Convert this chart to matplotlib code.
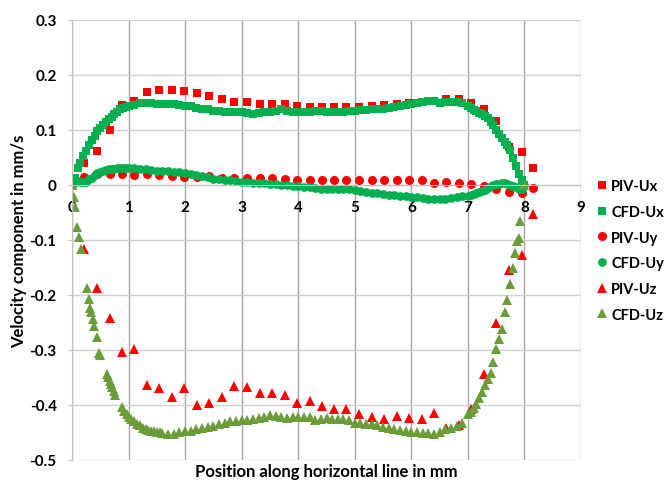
import matplotlib
matplotlib.use('Agg')
import matplotlib.pyplot as plt

plt.rcParams['font.family'] = ['Lato', 'DejaVu Sans']
plt.rcParams['font.weight'] = 'bold'

# PIV measurements (x in mm, velocities in mm/s)
piv_x = [0, 0.22, 0.44, 0.67, 0.88, 1.10, 1.32, 1.54, 1.77, 1.98, 2.21, 2.43, 2.65,
         2.87, 3.09, 3.32, 3.53, 3.76, 3.98, 4.20, 4.42, 4.64, 4.85, 5.08, 5.30, 5.52,
         5.74, 5.96, 6.18, 6.40, 6.62, 6.84, 7.06, 7.28, 7.50, 7.73, 7.95, 8.16]
piv_ux = [0, 0.039, 0.062, 0.100, 0.145, 0.153, 0.168, 0.173, 0.172, 0.170, 0.166, 0.162,
          0.156, 0.150, 0.150, 0.147, 0.147, 0.146, 0.144, 0.142, 0.142, 0.142, 0.141,
          0.141, 0.143, 0.145, 0.147, 0.149, 0.151, 0.153, 0.156, 0.156, 0.149, 0.138,
          0.116, 0.069, 0.060, 0.030]
piv_uy = [0, 0.015, 0.020, 0.020, 0.020, 0.018, 0.019, 0.018, 0.016, 0.015, 0.015, 0.016,
          0.013, 0.013, 0.013, 0.012, 0.012, 0.010, 0.009, 0.008, 0.008, 0.008, 0.008,
          0.008, 0.008, 0.008, 0.008, 0.008, 0.008, 0.004, 0.005, 0.004, 0.002, -0.002,
          -0.008, -0.013, -0.014, -0.005]
piv_uz = [0, -0.116, -0.188, -0.242, -0.304, -0.299, -0.364, -0.370, -0.385, -0.370,
          -0.400, -0.397, -0.385, -0.365, -0.367, -0.378, -0.379, -0.382, -0.396, -0.393,
          -0.402, -0.407, -0.407, -0.417, -0.421, -0.426, -0.420, -0.424, -0.426, -0.414,
          -0.442, -0.436, -0.407, -0.344, -0.251, -0.155, -0.128, -0.053]

# CFD results
cfd_x = [0, 0.05, 0.1, 0.15, 0.2, 0.25, 0.3, 0.35, 0.4, 0.45, 0.5, 0.55, 0.6, 0.65, 0.7,
         0.75, 0.8, 0.85, 0.9, 0.95, 1.0,
         1.1, 1.2, 1.3, 1.4, 1.5, 1.6, 1.7, 1.8, 1.9, 2.0, 2.1, 2.2, 2.3, 2.4, 2.5, 2.6,
         2.7, 2.8, 2.9, 3.0, 3.1, 3.2, 3.3, 3.4, 3.5, 3.6, 3.7, 3.8, 3.9, 4.0, 4.1, 4.2,
         4.3, 4.4, 4.5, 4.6, 4.7, 4.8, 4.9, 5.0, 5.1, 5.2, 5.3, 5.4, 5.5, 5.6, 5.7, 5.8,
         5.9, 6.0, 6.1, 6.2, 6.3, 6.4, 6.5, 6.6, 6.7, 6.8, 6.9, 7.0,
         7.05, 7.1, 7.15, 7.2, 7.25, 7.3, 7.35, 7.4, 7.45, 7.5, 7.55, 7.6, 7.65, 7.7,
         7.75, 7.8, 7.85, 7.9, 7.95, 8.0]
cfd_ux = [0, 0.012, 0.030, 0.040, 0.052, 0.062, 0.072, 0.081, 0.089, 0.097, 0.104, 0.109,
          0.114, 0.119, 0.124, 0.129, 0.133, 0.137, 0.140, 0.142, 0.143,
          0.145, 0.148, 0.149, 0.148, 0.147, 0.147, 0.147, 0.146, 0.145, 0.144, 0.143,
          0.140, 0.138, 0.137, 0.135, 0.134, 0.133, 0.133, 0.132, 0.132, 0.131, 0.129,
          0.130, 0.132, 0.133, 0.134, 0.137, 0.134, 0.132, 0.132, 0.132, 0.133, 0.134,
          0.134, 0.133, 0.132, 0.132, 0.133, 0.134, 0.135, 0.136, 0.136, 0.137, 0.138,
          0.138, 0.139, 0.141, 0.143, 0.145, 0.147, 0.149, 0.151, 0.153, 0.152, 0.149,
          0.150, 0.151, 0.151, 0.149, 0.143,
          0.139, 0.136, 0.134, 0.131, 0.128, 0.125, 0.121, 0.115, 0.109, 0.100, 0.092,
          0.085, 0.078, 0.073, 0.063, 0.048, 0.034, 0.020, 0.008, 0.0]
cfd_uy = [0, 0.005, 0.007, 0.006, 0.005, 0.006, 0.010, 0.013, 0.017, 0.021, 0.024, 0.026,
          0.027, 0.028, 0.029, 0.029, 0.030, 0.030, 0.030, 0.030, 0.030,
          0.030, 0.029, 0.028, 0.027, 0.026, 0.026, 0.025, 0.024, 0.023, 0.022, 0.020,
          0.018, 0.016, 0.014, 0.011, 0.010, 0.009, 0.008, 0.007, 0.006, 0.005, 0.004,
          0.004, 0.003, 0.002, 0.001, 0.000, -0.001, -0.002, -0.003, -0.004, -0.004,
          -0.005, -0.007, -0.008, -0.008, -0.008, -0.008, -0.008, -0.009, -0.012, -0.013,
          -0.014, -0.015, -0.016, -0.018, -0.019, -0.020, -0.021, -0.022, -0.023, -0.024,
          -0.025, -0.026, -0.025, -0.025, -0.024, -0.023, -0.021, -0.020,
          -0.019, -0.017, -0.015, -0.013, -0.011, -0.009, -0.006, -0.003, -0.001, 0.001,
          0.002, 0.003, 0.003, 0.002, 0.000, -0.002, -0.004, -0.007, -0.008, 0.0]

cfd_z_x = [0, 0.035, 0.06, 0.094, 0.118, 0.153, 0.26, 0.295, 0.318, 0.33, 0.365, 0.389,
           0.436, 0.48, 0.5, 0.62, 0.645, 0.67, 0.69, 0.71, 0.735, 0.76, 0.88, 0.92, 0.97,
           1.01, 1.05, 1.1, 1.15, 1.2, 1.25, 1.3, 1.35, 1.4, 1.45, 1.5, 1.55, 1.6, 1.7,
           1.8, 1.9, 2.0, 2.1, 2.2, 2.3, 2.4, 2.5, 2.6, 2.7, 2.8, 2.9, 3.0, 3.1, 3.2, 3.3,
           3.4, 3.5, 3.6, 3.7, 3.8, 3.9, 4.0, 4.1, 4.2, 4.3, 4.4, 4.5, 4.6, 4.7, 4.8, 4.9,
           5.0, 5.1, 5.2, 5.3, 5.4, 5.5, 5.6, 5.7, 5.8, 5.9, 6.0, 6.1, 6.2, 6.3, 6.4, 6.5,
           6.6, 6.7, 6.8, 6.9, 7.0, 7.05, 7.1, 7.15, 7.2, 7.25, 7.3, 7.35, 7.4, 7.45, 7.5,
           7.55, 7.6, 7.65, 7.7, 7.75, 7.8, 7.83, 7.87, 7.9, 7.93, 7.99]
cfd_uz = [0, -0.023, -0.041, -0.076, -0.095, -0.117, -0.188, -0.208, -0.223, -0.232,
          -0.244, -0.257, -0.277, -0.305, -0.310, -0.344, -0.350, -0.356, -0.362, -0.367,
          -0.374, -0.381, -0.404, -0.411, -0.417, -0.422, -0.426, -0.430, -0.434, -0.437,
          -0.441, -0.443, -0.445, -0.447, -0.448, -0.449, -0.450, -0.451, -0.453, -0.452,
          -0.449, -0.448, -0.447, -0.444, -0.441, -0.440, -0.438, -0.434, -0.432, -0.430,
          -0.429, -0.428, -0.427, -0.425, -0.424, -0.422, -0.419, -0.420, -0.422, -0.423,
          -0.421, -0.421, -0.421, -0.421, -0.427, -0.426, -0.424, -0.426, -0.425, -0.425,
          -0.428, -0.432, -0.433, -0.434, -0.434, -0.437, -0.440, -0.442, -0.444, -0.446,
          -0.448, -0.449, -0.450, -0.451, -0.451, -0.452, -0.450, -0.444, -0.441, -0.439,
          -0.432, -0.417, -0.412, -0.405, -0.399, -0.388, -0.376, -0.364, -0.353, -0.342,
          -0.322, -0.299, -0.281, -0.262, -0.232, -0.210, -0.180, -0.152, -0.123, -0.102,
          -0.096, -0.065, 0.0]

x_ticks = [0, 1, 2, 3, 4, 5, 6, 7, 8, 9]
y_ticks = [0.3, 0.2, 0.1, 0, -0.1, -0.2, -0.3, -0.4, -0.5]
y_tick_labels = ['0.3', '0.2', '0.1', '0', '-0.1', '-0.2', '-0.3', '-0.4', '-0.5']

red = '#FF0000'
green = '#00B050'
olive = '#6A9C3A'

fig = plt.figure(figsize=(6.66, 4.81), dpi=100)
ax = fig.add_axes([72 / 666, 1 - 461 / 481, 509 / 666, 440.3 / 481])

ax.plot(piv_x, piv_ux, 's', color=red, ms=6.3, mew=0, label='PIV-Ux')
ax.plot(cfd_x, cfd_ux, 's', color=green, ms=6.0, mew=0, label='CFD-Ux')
ax.plot(piv_x, piv_uy, 'o', color=red, ms=6.5, mew=0, label='PIV-Uy')
ax.plot(cfd_x, cfd_uy, 'o', color=green, ms=6.3, mew=0, label='CFD-Uy')
ax.plot(piv_x, piv_uz, '^', color=red, ms=7, mew=0, label='PIV-Uz')
ax.plot(cfd_z_x, cfd_uz, '^', color=olive, ms=7, mew=0, label='CFD-Uz')

ax.set_xlim(0, 9)
ax.set_ylim(-0.5, 0.3)
ax.set_xticks(x_ticks)
ax.set_xticklabels([str(t) for t in x_ticks])
ax.set_yticks(y_ticks)
ax.set_yticklabels(y_tick_labels)

for xv in x_ticks:
    ax.axvline(xv, color='#A6A6A6', lw=1.0, zorder=0)
for yv in y_ticks:
    ax.axhline(yv, color='#D0D0D0', lw=1.0, zorder=0)

for side in ['top', 'right']:
    ax.spines[side].set_visible(False)
ax.spines['left'].set_color('#BFBFBF')
ax.spines['bottom'].set_position(('data', 0))
ax.spines['bottom'].set_color('#BFBFBF')

ax.tick_params(axis='x', length=0, pad=11, labelsize=11)
ax.tick_params(axis='y', length=3, color='#BFBFBF', pad=8, labelsize=11)
for lab in ax.get_xticklabels() + ax.get_yticklabels():
    lab.set_fontweight('bold')

ax.set_xlabel('Position along horizontal line in mm', fontsize=12, fontweight='bold')
ax.xaxis.set_label_coords(0.5, -0.006)
ax.set_ylabel('Velocity component in mm/s', fontsize=12, fontweight='bold')
ax.yaxis.set_label_coords(-0.088, 0.5)

ax.legend(loc='center left', bbox_to_anchor=(1.016, 0.476), frameon=False,
          handlelength=0.6, handletextpad=0.3, labelspacing=0.8,
          borderaxespad=0.2, prop={'weight': 'bold', 'size': 10.5})

fig.savefig('out.png', dpi=100)
